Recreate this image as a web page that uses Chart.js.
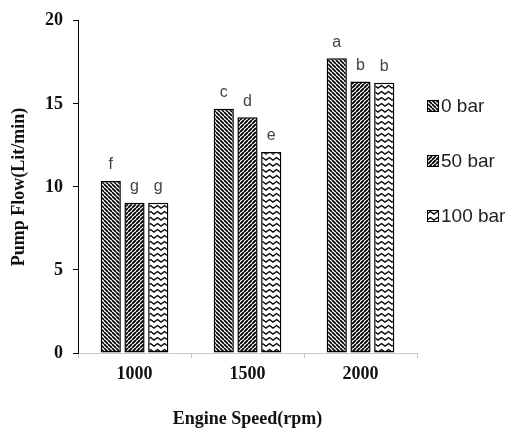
<!DOCTYPE html>
<html>
<head>
<meta charset="utf-8">
<script src="https://cdn.jsdelivr.net/npm/chart.js@4.4.1/dist/chart.umd.min.js"></script>
<style>
  html, body { margin: 0; padding: 0; background: #fff; }
  #wrap { width: 513px; height: 430px; }
</style>
</head>
<body>
<div id="wrap"><canvas id="chart" width="513" height="430"></canvas></div>
<script>
// Dữ liệu của biểu đồ
const speeds = ['1000', '1500', '2000'];
const seriesNames = ['0 bar', '50 bar', '100 bar'];
const flow0 = [10.35, 14.7, 17.75];
const flow50 = [9.05, 14.2, 16.35];
const flow100 = [9.05, 12.1, 16.27];
const letters0 = ['f', 'c', 'a'];
const letters50 = ['g', 'd', 'b'];
const letters100 = ['g', 'e', 'b'];
const yTicks = [0, 5, 10, 15, 20];

// Tạo mẫu tô (pattern) cho các cột
function stripePattern(dir, lw) {
    const s = 4;
    const c = document.createElement('canvas');
    c.width = s; c.height = s;
    const g = c.getContext('2d');
    g.fillStyle = '#fff';
    g.fillRect(0, 0, s, s);
    g.strokeStyle = '#000';
    g.lineWidth = lw;
    g.beginPath();
    for (let k = -1; k <= 1; k++) {
        if (dir === 'back') {
            g.moveTo(k * s, 0); g.lineTo(k * s + s, s);
        } else {
            g.moveTo(k * s, s); g.lineTo(k * s + s, 0);
        }
    }
    g.stroke();
    return g.createPattern(c, 'repeat');
}

function zigzagPattern() {
    const w = 7, h = 6;
    const c = document.createElement('canvas');
    c.width = w; c.height = h;
    const g = c.getContext('2d');
    g.fillStyle = '#fff';
    g.fillRect(0, 0, w, h);
    g.strokeStyle = '#000';
    g.lineWidth = 1.3;
    g.beginPath();
    g.moveTo(-0.5, 4.5);
    g.lineTo(3.5, 1.5);
    g.lineTo(7.5, 4.5);
    g.stroke();
    return g.createPattern(c, 'repeat');
}

const fills = [stripePattern('back', 1.7), stripePattern('fwd', 1.9), zigzagPattern()];
const allLetters = [letters0, letters50, letters100];

// Plugin vẽ chữ cái phía trên cột và chú thích bên phải
const extras = {
    id: 'extras',
    afterDatasetsDraw(chart) {
        const ctx = chart.ctx;
        ctx.save();
        ctx.font = '16px "Liberation Sans", Arial, sans-serif';
        ctx.fillStyle = '#444';
        ctx.textAlign = 'center';
        ctx.textBaseline = 'bottom';
        chart.data.datasets.forEach((ds, i) => {
            chart.getDatasetMeta(i).data.forEach((bar, j) => {
                ctx.fillText(allLetters[i][j], bar.x, bar.y - 8);
            });
        });

        // Chú thích
        const lx = 427, ly = [106, 161, 216];
        ctx.textAlign = 'left';
        ctx.textBaseline = 'middle';
        ctx.font = '19px "Liberation Sans", Arial, sans-serif';
        chart.data.datasets.forEach((ds, i) => {
            ctx.fillStyle = ds.backgroundColor;
            ctx.fillRect(lx, ly[i] - 6, 12, 12);
            ctx.strokeStyle = '#000';
            ctx.lineWidth = 1;
            ctx.strokeRect(lx + 0.5, ly[i] - 5.5, 11, 11);
            ctx.fillStyle = '#222';
            ctx.fillText(ds.label, lx + 14, ly[i] + 1);
        });
        ctx.restore();
    }
};

const serif = '"Liberation Serif", "Times New Roman", serif';

new Chart(document.getElementById('chart').getContext('2d'), {
    type: 'bar',
    data: {
        labels: speeds,
        datasets: [
            { label: seriesNames[0], data: flow0, backgroundColor: fills[0] },
            { label: seriesNames[1], data: flow50, backgroundColor: fills[1] },
            { label: seriesNames[2], data: flow100, backgroundColor: fills[2] }
        ].map(d => Object.assign(d, {
            borderColor: '#000',
            borderWidth: 1.5,
            borderSkipped: false,
            barPercentage: 0.85,
            categoryPercentage: 0.63
        }))
    },
    options: {
        responsive: false,
        animation: false,
        layout: { padding: { left: 0, top: 19, right: 96, bottom: 0 } },
        plugins: {
            legend: { display: false },
            tooltip: { enabled: false }
        },
        scales: {
            x: {
                afterFit(scale) { scale.height = 77; },
                grid: { drawOnChartArea: false, tickLength: 5, color: '#c8c8c8' },
                border: { color: '#c8c8c8', width: 1 },
                ticks: {
                    color: '#111',
                    padding: 6,
                    font: { family: serif, size: 18, weight: 'bold' }
                },
                title: {
                    display: true,
                    text: 'Engine Speed(rpm)',
                    color: '#111',
                    padding: { top: 0, bottom: 0 },
                    font: { family: serif, size: 18, weight: 'bold' }
                }
            },
            y: {
                min: 0,
                max: 20,
                afterFit(scale) { scale.width = 78; },
                afterBuildTicks(scale) { scale.ticks = yTicks.map(v => ({ value: v })); },
                grid: { drawOnChartArea: false, tickLength: 5, color: '#000' },
                border: { color: '#000', width: 1 },
                ticks: {
                    color: '#111',
                    padding: 10,
                    font: { family: serif, size: 18, weight: 'bold' }
                },
                title: {
                    display: true,
                    text: 'Pump Flow(Lit/min)',
                    color: '#111',
                    padding: { top: 9, bottom: 0 },
                    font: { family: serif, size: 18, weight: 'bold' }
                }
            }
        }
    },
    plugins: [extras]
});
</script>
</body>
</html>
